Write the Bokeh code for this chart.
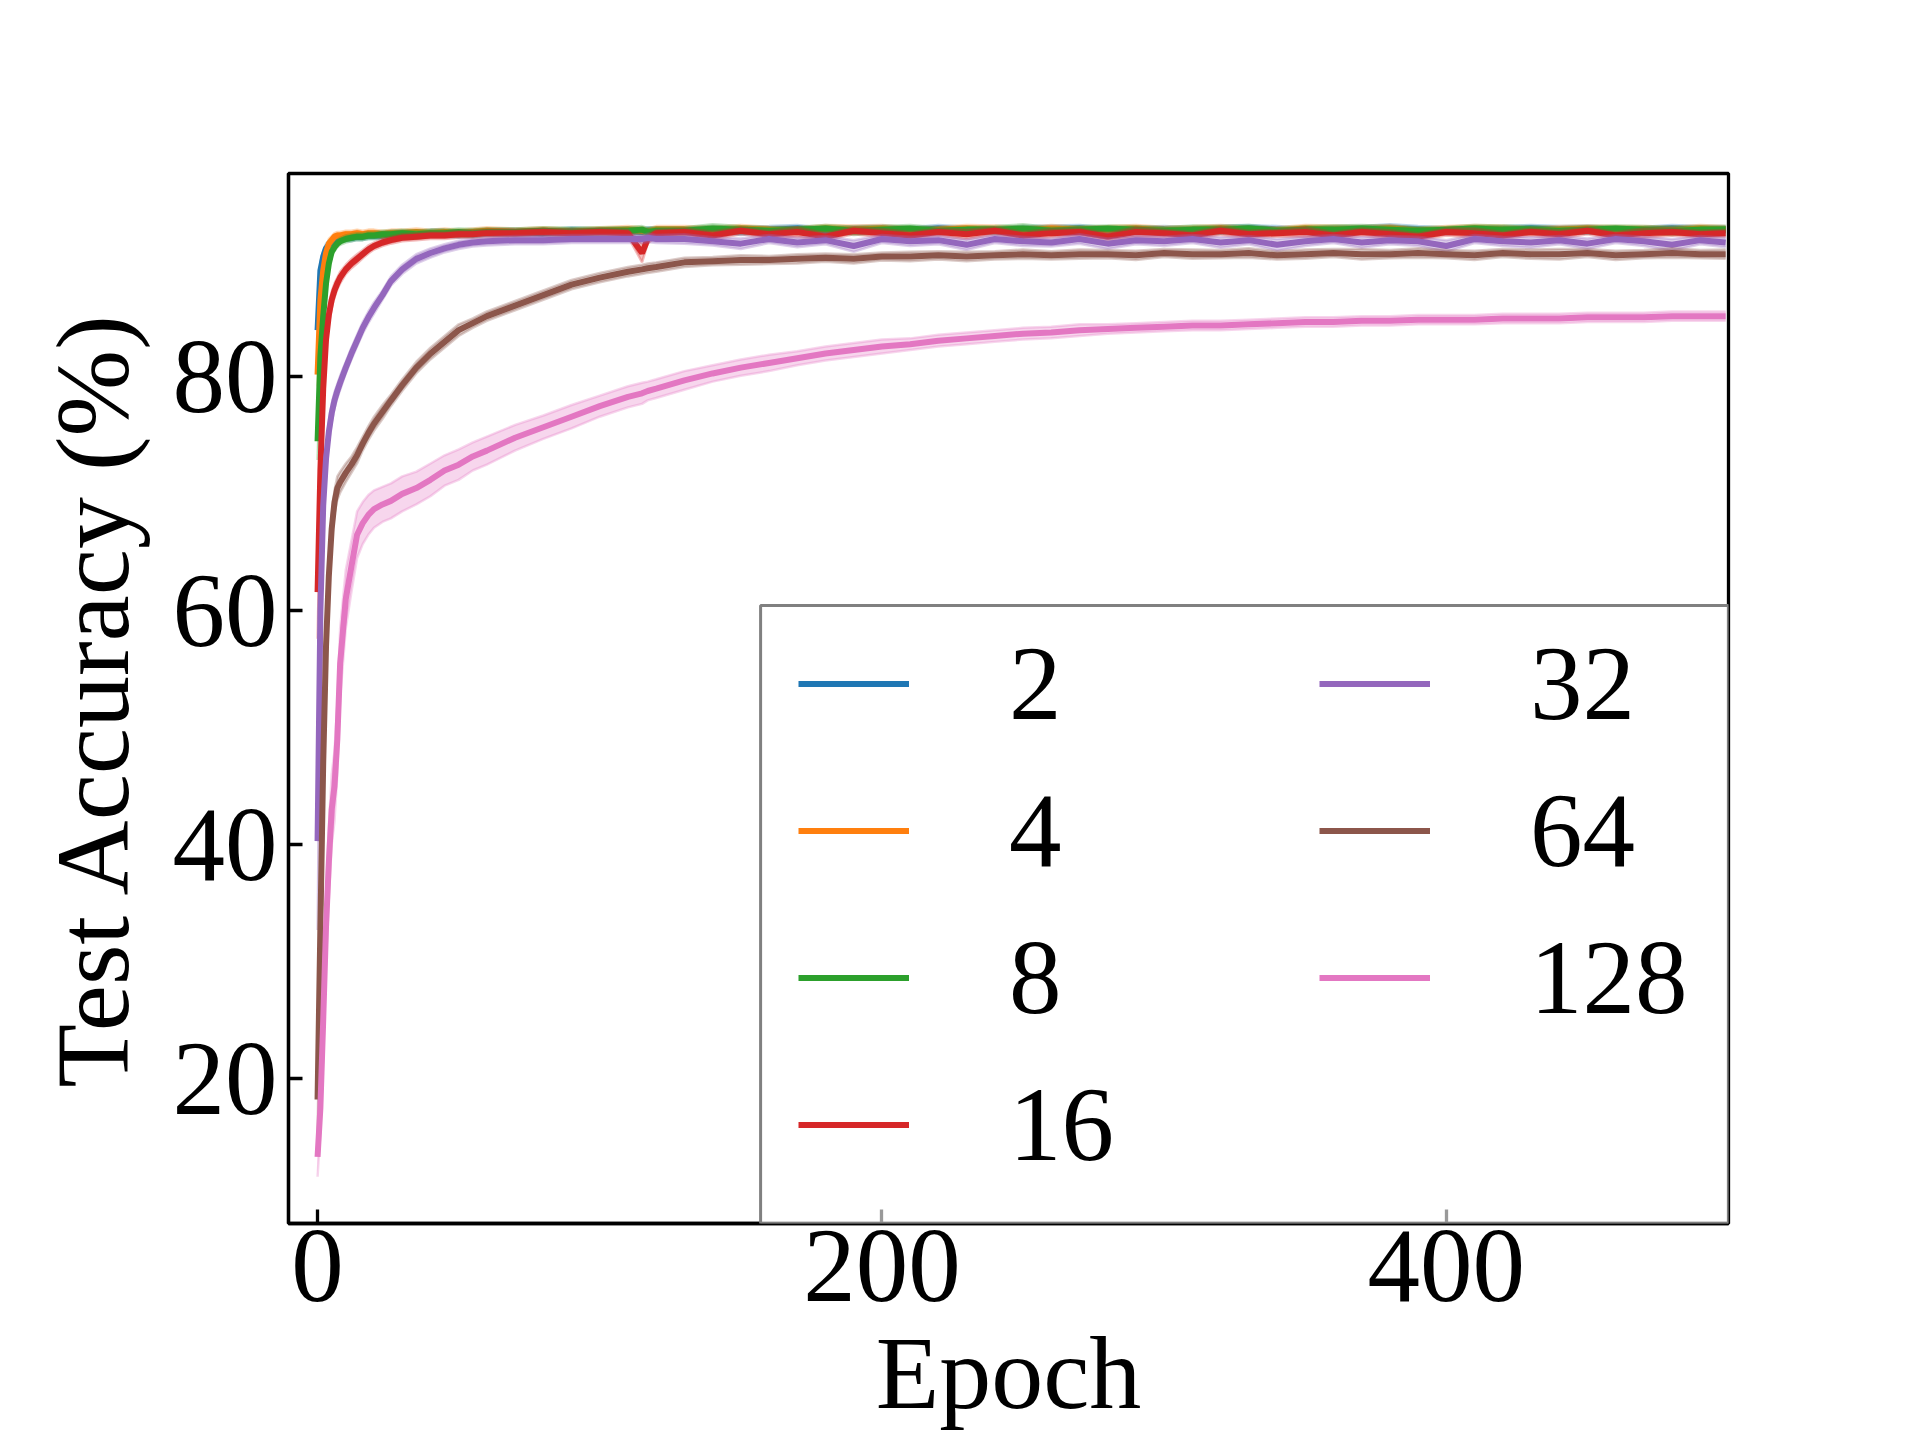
import numpy as np
from bokeh.plotting import figure
from bokeh.models import Legend, LegendItem, BoxAnnotation, FixedTicker, Range1d
from bokeh.embed import file_html
from bokeh.resources import INLINE

# ---------------- data ----------------
epochs = [0, 1, 2, 3, 4, 5, 6, 7, 8, 10, 12, 14, 16, 18, 20, 23, 26, 30, 35, 40, 45, 50, 55, 60,
          70, 80, 90, 100, 110, 115, 117, 120,
          130, 140, 150, 160, 170, 180, 190, 200, 210, 220, 230, 240, 250, 260, 270, 280, 290,
          300, 310, 320, 330, 340, 350, 360, 370, 380, 390, 400, 410, 420, 430, 440, 450, 460,
          470, 480, 490, 499]

series_labels = ["2", "4", "8", "16", "32", "64", "128"]
series_colors = ["#1f77b4", "#ff7f0e", "#2ca02c", "#d62728", "#9467bd", "#8c564b", "#e377c2"]

acc_2 = [84.0, 89.1, 90.3, 91.0, 91.3, 91.5, 91.6, 91.7, 91.8, 91.9, 91.9, 92.0, 92.0, 92.1, 92.1, 92.1,
         92.2, 92.2, 92.2, 92.3, 92.3, 92.2, 92.3, 92.4, 92.4, 92.3, 92.5, 92.4, 92.5, 92.4, 92.5, 92.5,
         92.5, 92.6, 92.5, 92.6, 92.7, 92.5, 92.6, 92.6, 92.5, 92.7, 92.6, 92.5, 92.6, 92.6, 92.7, 92.5,
         92.6, 92.6, 92.5, 92.6, 92.7, 92.6, 92.5, 92.6, 92.6, 92.7, 92.6, 92.5, 92.6, 92.6, 92.7, 92.6,
         92.6, 92.5, 92.6, 92.7, 92.6, 92.6]
acc_4 = [80.2, 86.6, 89.1, 90.6, 91.4, 91.7, 92.0, 92.1, 92.1, 92.2, 92.2, 92.3, 92.2, 92.3, 92.3, 92.2,
         92.3, 92.3, 92.4, 92.3, 92.4, 92.3, 92.4, 92.5, 92.4, 92.5, 92.4, 92.5, 92.6, 92.5, 92.4, 92.6,
         92.6, 92.5, 92.7, 92.6, 92.5, 92.7, 92.6, 92.7, 92.5, 92.6, 92.7, 92.6, 92.5, 92.7, 92.6, 92.6,
         92.7, 92.5, 92.6, 92.7, 92.6, 92.5, 92.7, 92.6, 92.6, 92.7, 92.5, 92.6, 92.7, 92.6, 92.5, 92.6,
         92.7, 92.6, 92.6, 92.5, 92.7, 92.6]
acc_8 = [74.5, 81.8, 85.2, 88.0, 89.7, 90.7, 91.1, 91.4, 91.6, 91.8, 91.9, 92.0, 92.0, 92.1, 92.1, 92.2,
         92.2, 92.3, 92.2, 92.3, 92.3, 92.4, 92.3, 92.4, 92.4, 92.5, 92.4, 92.5, 92.5, 92.6, 92.4, 92.5,
         92.5, 92.7, 92.6, 92.5, 92.6, 92.7, 92.5, 92.6, 92.7, 92.5, 92.6, 92.6, 92.7, 92.5, 92.6, 92.7,
         92.6, 92.5, 92.6, 92.6, 92.7, 92.5, 92.6, 92.6, 92.7, 92.6, 92.5, 92.6, 92.7, 92.6, 92.6, 92.5,
         92.6, 92.7, 92.6, 92.5, 92.6, 92.6]
acc_16 = [61.6, 72.0, 79.0, 83.2, 85.3, 86.6, 87.4, 88.0, 88.5, 89.2, 89.7, 90.1, 90.5, 90.9, 91.2, 91.5,
          91.7, 91.9, 92.0, 92.1, 92.1, 92.2, 92.2, 92.3, 92.3, 92.4, 92.3, 92.4, 92.3, 90.6, 91.8, 92.3,
          92.4, 92.1, 92.5, 92.2, 92.4, 92.0, 92.5, 92.3, 92.1, 92.4, 92.2, 92.5, 92.1, 92.3, 92.4, 92.0,
          92.4, 92.3, 92.1, 92.5, 92.2, 92.3, 92.4, 92.1, 92.4, 92.2, 92.0, 92.4, 92.3, 92.1, 92.4, 92.2,
          92.5, 92.1, 92.3, 92.4, 92.2, 92.3]
acc_32 = [40.3, 60.0, 69.0, 73.0, 75.3, 76.9, 78.0, 78.8, 79.5, 80.8, 82.0, 83.1, 84.2, 85.1, 85.9, 87.0,
          88.2, 89.2, 90.1, 90.6, 91.0, 91.3, 91.5, 91.6, 91.7, 91.7, 91.8, 91.8, 91.8, 91.8, 91.9, 91.8,
          91.8, 91.6, 91.4, 91.8, 91.5, 91.7, 91.2, 91.8, 91.6, 91.7, 91.3, 91.8, 91.6, 91.5, 91.8, 91.4,
          91.7, 91.6, 91.8, 91.5, 91.7, 91.3, 91.6, 91.8, 91.5, 91.7, 91.6, 91.2, 91.8, 91.6, 91.5, 91.7,
          91.4, 91.8, 91.6, 91.3, 91.7, 91.5]
acc_64 = [18.2, 33.0, 47.0, 57.0, 63.0, 67.0, 69.3, 70.5, 71.0, 71.8, 72.5, 73.3, 74.3, 75.2, 76.0, 77.0,
          78.0, 79.3, 80.8, 82.0, 83.0, 84.0, 84.6, 85.2, 86.1, 87.0, 87.9, 88.5, 89.0, 89.2, 89.3, 89.4,
          89.8, 89.9, 90.0, 90.0, 90.1, 90.2, 90.1, 90.3, 90.3, 90.4, 90.3, 90.4, 90.5, 90.4, 90.5, 90.5,
          90.4, 90.6, 90.5, 90.5, 90.6, 90.4, 90.5, 90.6, 90.5, 90.5, 90.6, 90.5, 90.4, 90.6, 90.5, 90.5,
          90.6, 90.4, 90.5, 90.6, 90.5, 90.5]
acc_128 = [13.3, 17.5, 25.0, 33.0, 38.5, 43.0, 45.0, 49.0, 55.5, 61.0, 63.8, 66.5, 67.5, 68.2, 68.7, 69.1,
           69.4, 70.0, 70.5, 71.2, 72.0, 72.5, 73.2, 73.7, 74.8, 75.7, 76.6, 77.5, 78.3, 78.6, 78.8, 79.0,
           79.7, 80.3, 80.8, 81.2, 81.6, 82.0, 82.3, 82.6, 82.8, 83.1, 83.3, 83.5, 83.7, 83.8, 84.0, 84.1,
           84.2, 84.3, 84.4, 84.4, 84.5, 84.6, 84.7, 84.7, 84.8, 84.8, 84.9, 84.9, 84.9, 85.0, 85.0, 85.0,
           85.1, 85.1, 85.1, 85.2, 85.2, 85.2]

std_2 = [1.0, 0.7, 0.5, 0.4, 0.35, 0.3, 0.3, 0.3, 0.3, 0.3, 0.3, 0.3, 0.3, 0.3, 0.3, 0.3,
         0.3, 0.3, 0.3, 0.3, 0.3, 0.3, 0.3, 0.3, 0.3, 0.3, 0.3, 0.3, 0.3, 0.3, 0.3, 0.3,
         0.3, 0.25, 0.35, 0.3, 0.3, 0.25, 0.3, 0.35, 0.3, 0.3, 0.25, 0.3, 0.3, 0.35, 0.3, 0.3,
         0.25, 0.3, 0.3, 0.35, 0.3, 0.3, 0.25, 0.3, 0.3, 0.35, 0.3, 0.3, 0.25, 0.3, 0.3, 0.3,
         0.35, 0.3, 0.25, 0.3, 0.3, 0.3]
std_4 = [1.0, 0.8, 0.6, 0.5, 0.4, 0.35, 0.3, 0.3, 0.3, 0.3, 0.3, 0.3, 0.3, 0.3, 0.3, 0.3,
         0.3, 0.3, 0.3, 0.3, 0.3, 0.3, 0.3, 0.3, 0.3, 0.3, 0.3, 0.3, 0.3, 0.3, 0.3, 0.3,
         0.3, 0.35, 0.3, 0.25, 0.3, 0.3, 0.35, 0.3, 0.3, 0.25, 0.3, 0.35, 0.3, 0.3, 0.25, 0.3,
         0.3, 0.35, 0.3, 0.3, 0.25, 0.3, 0.3, 0.35, 0.3, 0.3, 0.25, 0.3, 0.3, 0.35, 0.3, 0.3,
         0.25, 0.3, 0.3, 0.35, 0.3, 0.3]
std_8 = [1.6, 1.0, 0.8, 0.6, 0.5, 0.4, 0.35, 0.3, 0.3, 0.3, 0.3, 0.3, 0.3, 0.3, 0.3, 0.3,
         0.3, 0.3, 0.35, 0.3, 0.3, 0.3, 0.35, 0.3, 0.3, 0.3, 0.35, 0.3, 0.3, 0.3, 0.35, 0.3,
         0.3, 0.35, 0.3, 0.3, 0.25, 0.3, 0.35, 0.3, 0.3, 0.3, 0.25, 0.3, 0.35, 0.3, 0.3, 0.25,
         0.3, 0.3, 0.35, 0.3, 0.3, 0.25, 0.3, 0.35, 0.3, 0.3, 0.3, 0.25, 0.3, 0.35, 0.3, 0.3,
         0.3, 0.25, 0.3, 0.35, 0.3, 0.3]
std_16 = [4.0, 2.5, 1.5, 1.0, 0.8, 0.7, 0.6, 0.5, 0.5, 0.4, 0.4, 0.4, 0.35, 0.35, 0.3, 0.3,
          0.3, 0.3, 0.3, 0.3, 0.3, 0.3, 0.3, 0.3, 0.3, 0.3, 0.3, 0.3, 0.3, 0.8, 0.4, 0.3,
          0.3, 0.35, 0.3, 0.3, 0.4, 0.3, 0.3, 0.35, 0.3, 0.3, 0.4, 0.3, 0.3, 0.35, 0.3, 0.3,
          0.4, 0.3, 0.3, 0.35, 0.3, 0.3, 0.4, 0.3, 0.3, 0.35, 0.3, 0.3, 0.4, 0.3, 0.3, 0.35,
          0.3, 0.3, 0.4, 0.3, 0.3, 0.3]
std_32 = [7.6, 4.0, 2.0, 1.2, 0.9, 0.8, 0.7, 0.6, 0.6, 0.5, 0.5, 0.5, 0.5, 0.5, 0.5, 0.4,
          0.4, 0.4, 0.4, 0.4, 0.35, 0.35, 0.35, 0.35, 0.35, 0.35, 0.35, 0.35, 0.35, 0.35, 0.35, 0.35,
          0.4, 0.35, 0.45, 0.35, 0.4, 0.35, 0.5, 0.35, 0.4, 0.35, 0.45, 0.35, 0.4, 0.35, 0.4, 0.45,
          0.35, 0.4, 0.35, 0.45, 0.35, 0.5, 0.4, 0.35, 0.45, 0.35, 0.4, 0.5, 0.35, 0.4, 0.45, 0.35,
          0.45, 0.35, 0.4, 0.5, 0.35, 0.4]
std_64 = [3.0, 3.0, 2.5, 2.0, 1.5, 1.2, 1.0, 1.0, 0.9, 0.8, 0.7, 0.7, 0.6, 0.6, 0.6, 0.6,
          0.5, 0.5, 0.5, 0.5, 0.5, 0.5, 0.4, 0.4, 0.4, 0.4, 0.4, 0.4, 0.4, 0.4, 0.4, 0.4,
          0.4, 0.35, 0.4, 0.35, 0.4, 0.35, 0.4, 0.35, 0.4, 0.35, 0.4, 0.35, 0.4, 0.35, 0.4, 0.35,
          0.4, 0.35, 0.4, 0.35, 0.4, 0.35, 0.4, 0.35, 0.45, 0.35, 0.4, 0.35, 0.4, 0.35, 0.4, 0.45,
          0.35, 0.4, 0.35, 0.4, 0.35, 0.4]
std_128 = [1.7, 2.0, 3.0, 3.0, 3.0, 3.0, 3.0, 3.0, 3.0, 2.5, 2.2, 2.0, 1.8, 1.7, 1.6, 1.5,
           1.5, 1.5, 1.4, 1.4, 1.3, 1.3, 1.2, 1.2, 1.1, 1.0, 1.0, 0.9, 0.9, 0.9, 0.8, 0.8,
           0.8, 0.7, 0.7, 0.7, 0.6, 0.6, 0.6, 0.6, 0.5, 0.5, 0.5, 0.5, 0.5, 0.5, 0.5, 0.4,
           0.4, 0.4, 0.4, 0.4, 0.4, 0.4, 0.4, 0.4, 0.4, 0.4, 0.4, 0.4, 0.4, 0.4, 0.4, 0.4,
           0.4, 0.4, 0.4, 0.4, 0.4, 0.4]

x_ticks = [0, 200, 400]
y_ticks = [20, 40, 60, 80]
x_title = "Epoch"
y_title = "Test Accuracy (%)"

means = [acc_2, acc_4, acc_8, acc_16, acc_32, acc_64, acc_128]
stds = [std_2, std_4, std_8, std_16, std_32, std_64, std_128]
for m, s in zip(means, stds):
    assert len(m) == len(epochs) and len(s) == len(epochs)

# ---------------- figure ----------------
FONT = "Liberation Serif"
X_LO, X_HI = -10.3, 500.0
Y_LO, Y_HI = 7.6, 97.4

p = figure(width=1904, height=1432,
           x_range=Range1d(X_LO, X_HI), y_range=Range1d(Y_LO, Y_HI),
           output_backend="svg", toolbar_location=None,
           min_border_left=288, min_border_right=176, min_border_top=173, min_border_bottom=209,
           background_fill_color="white", border_fill_color="white")
p.grid.visible = False
p.outline_line_color = "black"
p.outline_line_width = 3.3
p.outline_line_alpha = 1.0

x = np.array(epochs, dtype=float)
renderers = []
for m, s, c in zip(means, stds, series_colors):
    m = np.array(m)
    s = np.array(s)
    lo, hi = m - s, m + s
    p.varea(x=x, y1=lo, y2=hi, fill_color=c, fill_alpha=0.3)
    p.line(x, lo, line_color=c, line_alpha=0.3, line_width=2.5)
    p.line(x, hi, line_color=c, line_alpha=0.3, line_width=2.5)
    r = p.line(x, m, line_color=c, line_width=6)
    renderers.append(r)

for ax in (p.xaxis, p.yaxis):
    ax.axis_line_color = "black"
    ax.axis_line_width = 3.3
    ax.major_tick_in = 14
    ax.major_tick_out = 0
    ax.minor_tick_in = 0
    ax.minor_tick_out = 0
    ax.major_tick_line_width = 3.3
    ax.major_tick_line_color = "black"
    ax.major_label_text_font = FONT
    ax.major_label_text_font_size = "105px"
    ax.major_label_text_color = "black"
    ax.axis_label_text_font = FONT
    ax.axis_label_text_font_size = "104px"
    ax.axis_label_text_font_style = "normal"
    ax.axis_label_text_color = "black"

p.xaxis.ticker = FixedTicker(ticks=x_ticks)
p.yaxis.ticker = FixedTicker(ticks=y_ticks)
p.xaxis.axis_label = x_title
p.yaxis.axis_label = y_title
p.xaxis.major_label_standoff = 7
p.xaxis.axis_label_standoff = 11
p.yaxis.major_label_standoff = 11
p.yaxis.axis_label_standoff = 20

# legend frame
box = BoxAnnotation(left=157.0, top=60.46, fill_color="white", fill_alpha=0.6,
                    line_color="#808080", line_width=3, line_alpha=1.0)
p.add_layout(box)

def make_legend(idx, loc):
    items = [LegendItem(label=series_labels[i], renderers=[renderers[i]]) for i in idx]
    lg = Legend(items=items, location=loc, orientation="vertical",
                border_line_color=None, background_fill_alpha=0.0,
                padding=0, margin=0, spacing=22,
                glyph_width=111, glyph_height=125, label_height=125,
                label_standoff=100,
                label_text_font=FONT, label_text_font_size="105px",
                label_text_color="black")
    return lg

p.add_layout(make_legend([0, 1, 2, 3], (510, 36)), "center")
p.add_layout(make_legend([4, 5, 6], (1031, 183)), "center")

open("out.html", "w").write(file_html(p, INLINE))
